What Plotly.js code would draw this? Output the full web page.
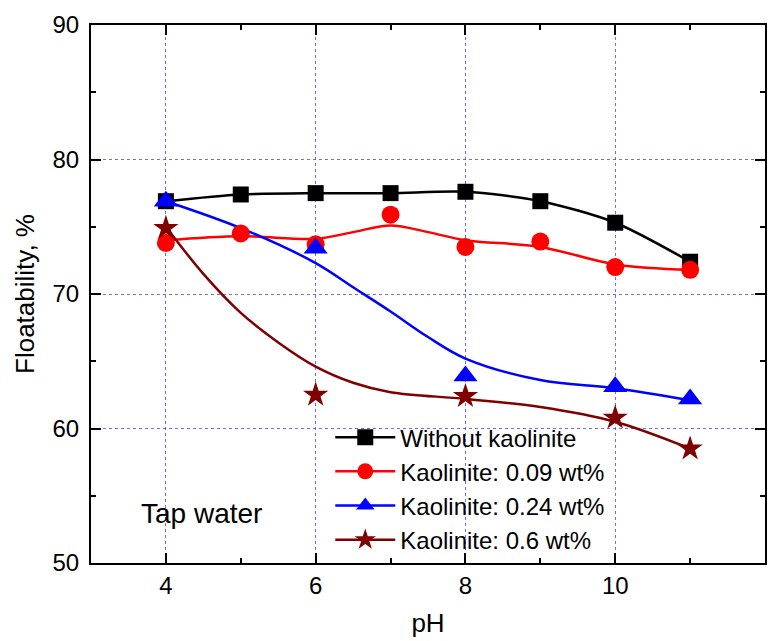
<!DOCTYPE html>
<html>
<head>
<meta charset="utf-8">
<script src="https://cdn.plot.ly/plotly-3.0.1.min.js"></script>
<style>html,body{margin:0;padding:0;background:#fff;}#chart{width:776px;height:641px;}</style>
</head>
<body>
<div id="chart"></div>
<script>
// Measured points
var pH = [4, 5, 6, 7, 8, 9, 10, 11];
var withoutKaolinite = [76.9, 77.4, 77.5, 77.5, 77.6, 76.9, 75.3, 72.4];
var kaolinite009 = [73.8, 74.5, 73.7, 75.9, 73.5, 73.9, 72.0, 71.8];
var pH024 = [4, 6, 8, 10, 11];
var kaolinite024 = [76.9, 73.4, 63.9, 63.1, 62.2];
var pH06 = [4, 6, 8, 10, 11];
var kaolinite06 = [74.9, 62.5, 62.4, 60.8, 58.5];

// Fitted curves
var fitX009 = [4, 5, 6, 6.5, 7, 7.5, 8, 9, 10, 11];
var fitY009 = [74.0, 74.3, 74.1, 74.6, 75.1, 74.6, 74.0, 73.5, 72.2, 71.8];
var fitX024 = [4, 5, 6, 6.5, 7, 7.5, 8, 9, 10, 11];
var fitY024 = [76.9, 74.9, 72.3, 70.5, 68.7, 66.8, 65.2, 63.6, 63.0, 62.1];
var fitX06 = [4, 4.5, 5, 5.5, 6, 6.5, 7, 8, 9, 10, 11];
var fitY06 = [75.0, 71.5, 68.6, 66.4, 64.6, 63.4, 62.7, 62.2, 61.6, 60.5, 58.5];

var seriesNames = ['Without kaolinite', 'Kaolinite: 0.09 wt%', 'Kaolinite: 0.24 wt%', 'Kaolinite: 0.6 wt%'];
var seriesColors = ['#000000', '#ff0000', '#0000ff', '#800000'];
var seriesSymbols = ['square', 'circle', 'triangle-up', 'star'];
var seriesSizes = [16, 18, 21, 19];

var FONT = '"Liberation Sans", Arial, Helvetica, sans-serif';
var LW = 2.5;

var traces = [];
// Curves
traces.push({x: pH, y: withoutKaolinite, mode: 'lines', line: {color: seriesColors[0], width: LW, shape: 'spline', smoothing: 0.8}, showlegend: false, hoverinfo: 'skip'});
traces.push({x: fitX009, y: fitY009, mode: 'lines', line: {color: seriesColors[1], width: LW, shape: 'spline'}, showlegend: false, hoverinfo: 'skip'});
traces.push({x: fitX024, y: fitY024, mode: 'lines', line: {color: seriesColors[2], width: LW, shape: 'spline'}, showlegend: false, hoverinfo: 'skip'});
traces.push({x: fitX06, y: fitY06, mode: 'lines', line: {color: seriesColors[3], width: LW, shape: 'spline'}, showlegend: false, hoverinfo: 'skip'});
// Markers
var px = [pH, pH, pH024, pH06];
var py = [withoutKaolinite, kaolinite009, kaolinite024, kaolinite06];
for (var i = 0; i < 4; i++) {
  traces.push({x: px[i], y: py[i], mode: 'markers', name: seriesNames[i],
    marker: {color: seriesColors[i], symbol: seriesSymbols[i], size: seriesSizes[i], line: {width: 0}},
    showlegend: false});
}
// Legend entries
for (var j = 0; j < 4; j++) {
  traces.push({x: [null], y: [null], mode: 'lines+markers', name: seriesNames[j],
    line: {color: seriesColors[j], width: LW},
    marker: {color: seriesColors[j], symbol: seriesSymbols[j], size: seriesSizes[j], line: {width: 0}},
    showlegend: true});
}

var layout = {
  width: 776, height: 641,
  margin: {l: 91, r: 11, t: 25, b: 78},
  paper_bgcolor: '#fff', plot_bgcolor: '#fff',
  font: {family: FONT, size: 24, color: '#000'},
  showlegend: true,
  legend: {x: 0.355, y: 0.275, xanchor: 'left', yanchor: 'top', bgcolor: 'rgba(0,0,0,0)',
    font: {family: FONT, size: 24, color: '#000'}, itemwidth: 60, tracegroupgap: 0},
  xaxis: {
    range: [3, 12], tickmode: 'linear', tick0: 4, dtick: 2,
    ticks: 'inside', ticklen: 10, tickwidth: 2, tickcolor: '#000',
    minor: {ticks: 'inside', ticklen: 5, tickwidth: 2, tickcolor: '#000', dtick: 1, tick0: 3, showgrid: false},
    showline: true, linewidth: 2, linecolor: '#000', mirror: 'ticks',
    showgrid: true, gridcolor: 'rgba(70,70,255,0.8)', gridwidth: 1, griddash: 'dot',
    zeroline: false, ticklabelstandoff: 0,
    tickfont: {family: FONT, size: 24, color: '#000'},
    title: {text: 'pH', font: {family: FONT, size: 26, color: '#000'}, standoff: 16}
  },
  yaxis: {
    range: [50, 90], tickmode: 'linear', tick0: 50, dtick: 10,
    ticks: 'inside', ticklen: 10, tickwidth: 2, tickcolor: '#000',
    minor: {ticks: 'inside', ticklen: 5, tickwidth: 2, tickcolor: '#000', dtick: 5, tick0: 50, showgrid: false},
    showline: true, linewidth: 2, linecolor: '#000', mirror: 'ticks',
    showgrid: true, gridcolor: 'rgba(70,70,255,0.8)', gridwidth: 1, griddash: 'dot',
    zeroline: false, ticklabelstandoff: 5,
    tickfont: {family: FONT, size: 24, color: '#000'},
    title: {text: 'Floatability, %', font: {family: FONT, size: 26, color: '#000'}, standoff: 10}
  },
  annotations: [{
    text: 'Tap water', x: 4.48, y: 53.7, xref: 'x', yref: 'y', showarrow: false,
    font: {family: FONT, size: 28, color: '#000'}
  }]
};

Plotly.newPlot('chart', traces, layout, {displayModeBar: false, staticPlot: true});
</script>
</body>
</html>
